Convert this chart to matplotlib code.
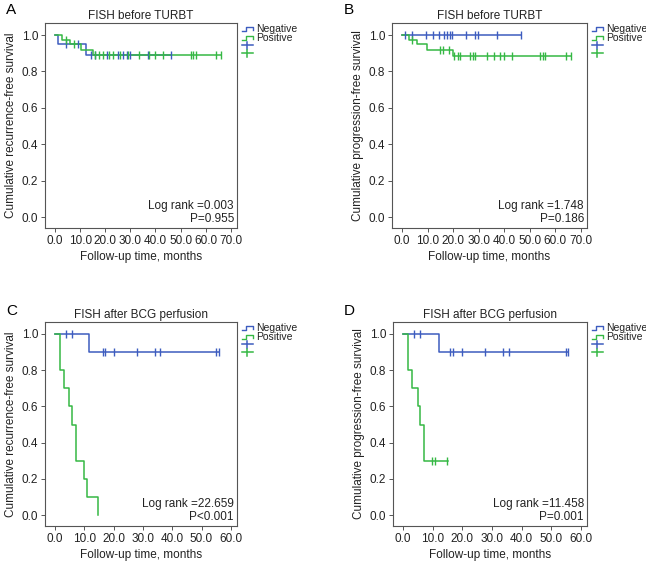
import matplotlib
matplotlib.use('Agg')
import matplotlib.pyplot as plt
import matplotlib.transforms as mtransforms
import numpy as np

plt.rcParams['font.family'] = ['Liberation Sans', 'DejaVu Sans']

BLUE = '#3d5cbf'
GREEN = '#35b844'
TXT = '#222222'

# ---- data ----
# A: recurrence-free, FISH before TURBT
a_neg_t = [0, 1.3, 12.3]
a_neg_s = [1.0, 0.95, 0.89]
a_neg_end = 46.0
a_neg_cens = [4.2, 9.0, 14.2, 16.0, 20.5, 25.0, 27.0, 28.5, 30.0, 37.0, 46.0]
a_pos_t = [0, 2.9, 6.0, 10.2, 15.3]
a_pos_s = [1.0, 0.975, 0.95, 0.92, 0.89]
a_pos_end = 66.0
a_pos_cens = [4.5, 7.5, 15.8, 17.5, 19.0, 21.5, 23.0, 26.0, 29.0, 33.5, 37.5,
              40.0, 43.0, 54.0, 55.0, 56.0, 64.0, 66.0]

# B: progression-free, FISH before TURBT
b_neg_t = [0]
b_neg_s = [1.0]
b_neg_end = 46.4
b_neg_cens = [1.0, 4.0, 9.2, 12.0, 14.4, 16.4, 17.5, 18.7, 19.7, 25.0, 28.4,
              29.7, 37.3, 46.4]
b_pos_t = [0, 2.8, 5.7, 9.7, 20.1]
b_pos_s = [1.0, 0.975, 0.95, 0.92, 0.885]
b_pos_end = 66.0
b_pos_cens = [4.0, 14.8, 16.0, 18.4, 20.4, 21.7, 22.8, 26.7, 27.7, 28.7, 33.3,
              36.0, 38.4, 40.1, 43.1, 54.1, 55.1, 56.0, 64.1, 66.0]

# C: recurrence-free, FISH after BCG perfusion
c_neg_t = [0, 11.7]
c_neg_s = [1.0, 0.9]
c_neg_end = 56.0
c_neg_cens = [3.8, 5.8, 16.3, 17.2, 20.0, 27.9, 34.0, 35.9, 54.8, 55.9]
c_pos_t = [0, 1.8, 2.9, 4.7, 5.8, 7.0, 9.8, 10.8, 14.8]
c_pos_s = [1.0, 0.8, 0.7, 0.6, 0.5, 0.3, 0.2, 0.1, 0.0]
c_pos_end = 14.8
c_pos_cens = []

# D: progression-free, FISH after BCG perfusion
d_neg_t = [0, 12.0]
d_neg_s = [1.0, 0.9]
d_neg_end = 55.8
d_neg_cens = [3.8, 5.7, 15.8, 16.9, 19.8, 27.8, 33.8, 35.8, 55.0, 55.8]
d_pos_t = [0, 1.8, 2.9, 4.9, 5.8, 6.9]
d_pos_s = [1.0, 0.8, 0.7, 0.6, 0.5, 0.3]
d_pos_end = 15.2
d_pos_cens = [9.8, 10.7, 14.9]

titles = ['FISH before TURBT', 'FISH before TURBT',
          'FISH after BCG perfusion', 'FISH after BCG perfusion']
ylabels = ['Cumulative recurrence-free survival', 'Cumulative progression-free survival',
           'Cumulative recurrence-free survival', 'Cumulative progression-free survival']
logrank = ['Log rank =0.003', 'Log rank =1.748', 'Log rank =22.659', 'Log rank =11.458']
pvals = ['P=0.955', 'P=0.186', 'P<0.001', 'P=0.001']
letters = ['A', 'B', 'C', 'D']
xmax = [70, 70, 60, 60]

W, H = 646, 566
fig = plt.figure(figsize=(W / 100, H / 100), dpi=100)

# axes boxes in pixels: left, right, top, bottom
boxes = [(45, 237, 23, 228), (392, 587, 23, 228),
         (45, 237, 322, 526), (393, 587, 322, 526)]
letter_pos = [(6, 10), (344, 10), (6, 311), (344, 311)]


def km_line(ax, t, s, end, cens, color):
    tt = list(t) + [end]
    ss = list(s) + [s[-1]]
    ax.step(tt, ss, where='post', color=color, lw=1.1, zorder=3)
    if cens:
        idx = np.searchsorted(t, cens, side='right') - 1
        cy = np.array(s)[idx]
        ax.plot(cens, cy, ls='none', marker='|', ms=6, mew=1.0, color=color, zorder=4)


def offs(ax, dx, dy):
    # shift by pixels from a point given in axes coordinates
    return ax.transAxes + mtransforms.ScaledTranslation(dx / 100, dy / 100, fig.dpi_scale_trans)


def fx(px):
    return px / W


def fy(py):
    return 1 - py / H


panels = [
    (a_neg_t, a_neg_s, a_neg_end, a_neg_cens, a_pos_t, a_pos_s, a_pos_end, a_pos_cens),
    (b_neg_t, b_neg_s, b_neg_end, b_neg_cens, b_pos_t, b_pos_s, b_pos_end, b_pos_cens),
    (c_neg_t, c_neg_s, c_neg_end, c_neg_cens, c_pos_t, c_pos_s, c_pos_end, c_pos_cens),
    (d_neg_t, d_neg_s, d_neg_end, d_neg_cens, d_pos_t, d_pos_s, d_pos_end, d_pos_cens),
]

for i, p in enumerate(panels):
    l, r, t, b = boxes[i]
    ax = fig.add_axes([l / W, 1 - b / H, (r - l) / W, (b - t) / H])
    km_line(ax, p[0], p[1], p[2], p[3], BLUE)
    km_line(ax, p[4], p[5], p[6], p[7], GREEN)

    xm = xmax[i]
    ax.set_xlim(-0.057 * xm, xm * 1.035)
    ax.set_ylim(-0.06, 1.066)
    xt = np.arange(0, xm + 1, 10)
    ax.set_xticks(xt)
    ax.set_xticklabels(['%.1f' % v for v in xt])
    yt = np.arange(0, 1.01, 0.2)
    ax.set_yticks(yt)
    ax.set_yticklabels(['%.1f' % v for v in yt])
    ax.tick_params(direction='out', length=3, width=0.7, colors='#555555',
                   labelcolor=TXT, labelsize=8.5, pad=2)
    for sp in ax.spines.values():
        sp.set_color('#555555')
        sp.set_linewidth(0.8)

    ax.set_title(titles[i], fontsize=8.5, color=TXT, pad=3)
    ax.set_xlabel('Follow-up time, months', fontsize=8.5, color=TXT, labelpad=3)
    ax.set_ylabel(ylabels[i], fontsize=8.5, color=TXT, labelpad=3)

    ax.text(1, 0, logrank[i], ha='right', va='center', fontsize=8.5, color=TXT,
            transform=offs(ax, -3, 22))
    ax.text(1, 0, pvals[i], ha='right', va='center', fontsize=8.5, color=TXT,
            transform=offs(ax, -3, 9))

    # legend beside the axes: step-shaped handles, then the censor marks
    for lab, col, yc in [('Negative', BLUE, t + 6), ('Positive', GREEN, t + 15)]:
        xs = [r + 5, r + 9, r + 9, r + 16, r + 16]
        ys = [yc + 2, yc + 2, yc - 2, yc - 2, yc + 1]
        fig.add_artist(plt.Line2D([fx(v) for v in xs], [fy(v) for v in ys], color=col, lw=1.0))
        fig.text(fx(r + 19), fy(yc), lab, fontsize=7.5, color=TXT, ha='left', va='center')
    for col, yc in [(BLUE, t + 22), (GREEN, t + 30)]:
        fig.add_artist(plt.Line2D([fx(r + 5), fx(r + 16)], [fy(yc), fy(yc)], color=col, lw=1.1))
        fig.add_artist(plt.Line2D([fx(r + 10), fx(r + 10)], [fy(yc - 3.5), fy(yc + 3.5)],
                                  color=col, lw=1.1))

    fig.text(fx(letter_pos[i][0]), fy(letter_pos[i][1]), letters[i],
             fontsize=11, color='black', va='center', ha='left')

fig.savefig('out.png', dpi=100)
